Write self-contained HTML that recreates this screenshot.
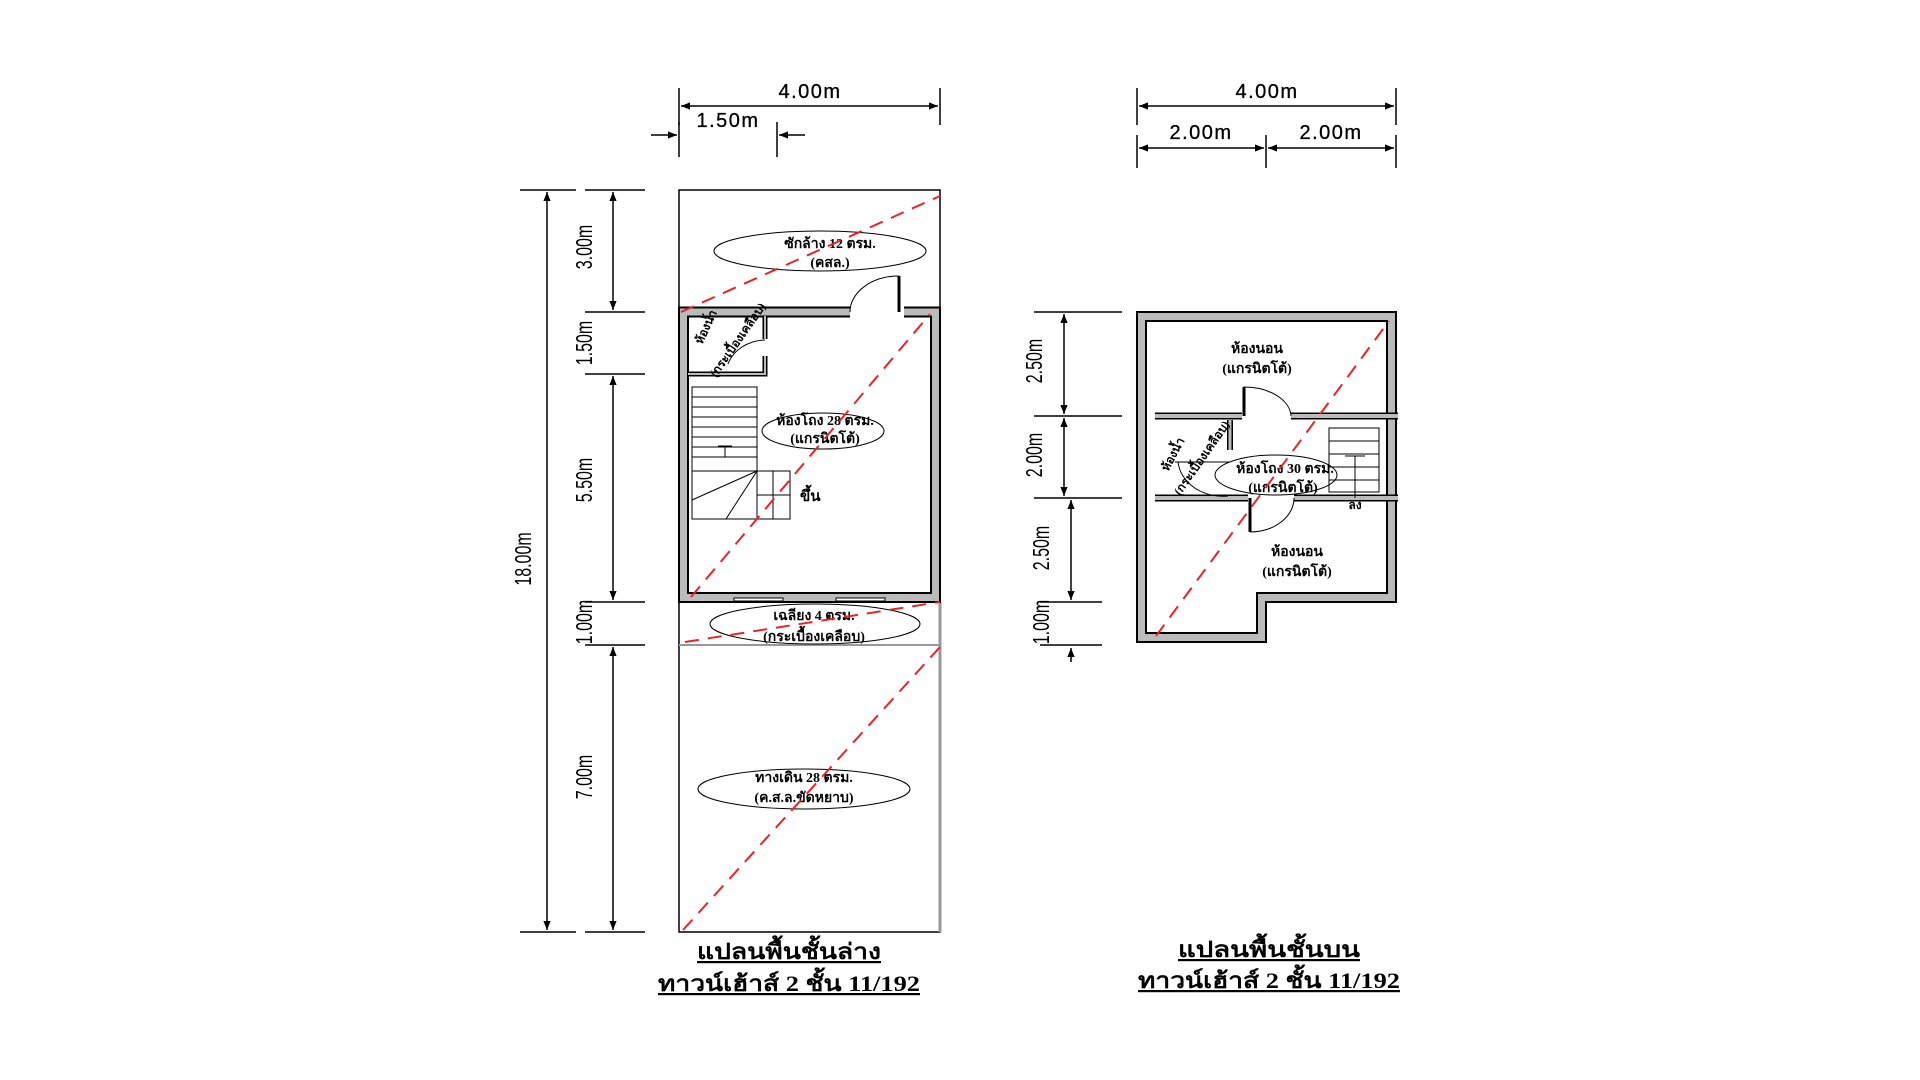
<!DOCTYPE html>
<html><head><meta charset="utf-8"><style>
html,body{margin:0;padding:0;background:#fff;}
svg{display:block}
.d{font-family:"Liberation Sans",sans-serif;font-size:20px;fill:#000}
.w{letter-spacing:1.5px;stroke:#000;stroke-width:0.3}
.t{font-family:"Liberation Serif","Noto Serif CJK SC",serif;font-weight:bold;font-size:14px;fill:#000}
.c{font-family:"Liberation Serif","Noto Serif CJK SC",serif;font-weight:bold;font-size:22px;fill:#000;text-decoration:underline}
</style></head><body>
<svg width="1920" height="1080" viewBox="0 0 1920 1080" xmlns="http://www.w3.org/2000/svg">
<defs>
<marker id="a" viewBox="0 0 10 10" refX="10" refY="5" markerWidth="9" markerHeight="6" orient="auto-start-reverse"><path d="M0,1 L10,5 L0,9z" fill="#000"/></marker>
</defs>
<g stroke="#000" stroke-width="1.5" fill="none">
<line x1="679" y1="88" x2="679" y2="125"/><line x1="940" y1="88" x2="940" y2="125"/>
<line x1="681" y1="106" x2="938" y2="106" marker-start="url(#a)" marker-end="url(#a)"/>
<line x1="679" y1="122" x2="679" y2="157"/><line x1="777" y1="122" x2="777" y2="157"/>
<line x1="651" y1="135" x2="677" y2="135" marker-end="url(#a)"/>
<line x1="805" y1="135" x2="779" y2="135" marker-end="url(#a)"/>
<line x1="520" y1="190" x2="576" y2="190"/><line x1="520" y1="932" x2="576" y2="932"/>
<line x1="547" y1="192" x2="547" y2="930" marker-start="url(#a)" marker-end="url(#a)"/>
<g>
<line x1="585" y1="190" x2="645" y2="190"/><line x1="585" y1="312" x2="645" y2="312"/>
<line x1="585" y1="374" x2="645" y2="374"/><line x1="585" y1="602" x2="645" y2="602"/>
<line x1="585" y1="645" x2="645" y2="645"/><line x1="585" y1="932" x2="645" y2="932"/>
</g>
<line x1="613" y1="192" x2="613" y2="310" marker-start="url(#a)" marker-end="url(#a)"/>
<line x1="613" y1="376" x2="613" y2="600" marker-start="url(#a)" marker-end="url(#a)"/>
<line x1="613" y1="647" x2="613" y2="930" marker-start="url(#a)" marker-end="url(#a)"/>
<line x1="1137" y1="88" x2="1137" y2="125"/><line x1="1396" y1="88" x2="1396" y2="125"/>
<line x1="1139" y1="106" x2="1394" y2="106" marker-start="url(#a)" marker-end="url(#a)"/>
<line x1="1137" y1="135" x2="1137" y2="168"/><line x1="1266" y1="135" x2="1266" y2="168"/><line x1="1396" y1="135" x2="1396" y2="168"/>
<line x1="1139" y1="148" x2="1264" y2="148" marker-start="url(#a)" marker-end="url(#a)"/>
<line x1="1268" y1="148" x2="1394" y2="148" marker-start="url(#a)" marker-end="url(#a)"/>
<line x1="1034" y1="312" x2="1122" y2="312"/><line x1="1034" y1="416" x2="1122" y2="416"/>
<line x1="1034" y1="498" x2="1122" y2="498"/><line x1="1040" y1="602" x2="1102" y2="602"/>
<line x1="1040" y1="645" x2="1102" y2="645"/>
<line x1="1064" y1="314" x2="1064" y2="414" marker-start="url(#a)" marker-end="url(#a)"/>
<line x1="1064" y1="418" x2="1064" y2="496" marker-start="url(#a)" marker-end="url(#a)"/>
<line x1="1071" y1="500" x2="1071" y2="600" marker-start="url(#a)" marker-end="url(#a)"/>
<line x1="1071" y1="662" x2="1071" y2="648" marker-end="url(#a)"/>
</g>
<text class="d w" x="810" y="98" text-anchor="middle">4.00m</text>
<text class="d w" x="728" y="127" text-anchor="middle">1.50m</text>
<text class="d w" x="1267" y="98" text-anchor="middle">4.00m</text>
<text class="d w" x="1201" y="139" text-anchor="middle">2.00m</text>
<text class="d w" x="1331" y="139" text-anchor="middle">2.00m</text>
<text class="d" transform="translate(531,559) rotate(-90) scale(0.8,1.15)" text-anchor="middle">18.00m</text>
<text class="d" transform="translate(592,247) rotate(-90) scale(0.8,1.15)" text-anchor="middle">3.00m</text>
<text class="d" transform="translate(592,343) rotate(-90) scale(0.8,1.15)" text-anchor="middle">1.50m</text>
<text class="d" transform="translate(592,480) rotate(-90) scale(0.8,1.15)" text-anchor="middle">5.50m</text>
<text class="d" transform="translate(592,622) rotate(-90) scale(0.8,1.15)" text-anchor="middle">1.00m</text>
<text class="d" transform="translate(592,777) rotate(-90) scale(0.8,1.15)" text-anchor="middle">7.00m</text>
<text class="d" transform="translate(1042,361) rotate(-90) scale(0.8,1.15)" text-anchor="middle">2.50m</text>
<text class="d" transform="translate(1042,455) rotate(-90) scale(0.8,1.15)" text-anchor="middle">2.00m</text>
<text class="d" transform="translate(1049,548) rotate(-90) scale(0.8,1.15)" text-anchor="middle">2.50m</text>
<text class="d" transform="translate(1049,622) rotate(-90) scale(0.8,1.15)" text-anchor="middle">1.00m</text>

<rect x="679" y="190" width="261" height="742" fill="none" stroke="#000" stroke-width="1.5"/>
<line x1="940" y1="602" x2="940" y2="932" stroke="#999" stroke-width="3"/>
<line x1="679" y1="645" x2="940" y2="645" stroke="#999" stroke-width="2"/>
<path d="M850,312 H683.5 V597.5 H935.5 V312 H904" fill="none" stroke="#000" stroke-width="11"/>
<path d="M850,312 H683.5 V597.5 H935.5 V312 H904" fill="none" stroke="#bbb" stroke-width="7"/>
<line x1="899" y1="312" x2="899" y2="276" stroke="#000" stroke-width="3"/>
<path d="M899,276 A49,36 0 0 0 850,312" fill="none" stroke="#000" stroke-width="1"/>
<rect x="734" y="598" width="49" height="3" fill="#fff" stroke="#000" stroke-width="1"/>
<rect x="836" y="598" width="49" height="3" fill="#fff" stroke="#000" stroke-width="1"/>
<path d="M688,374 H765 V356 M765,339 V316" fill="none" stroke="#000" stroke-width="5"/>
<path d="M688,374 H765 V356 M765,339 V316" fill="none" stroke="#bbb" stroke-width="2"/>
<path d="M765,340 A40,35 0 0 0 728,364" fill="none" stroke="#000" stroke-width="1"/>
<text class="t" transform="translate(702,345) rotate(-65)" style="font-size:12px">ห้องน้ำ</text>
<text class="t" transform="translate(716,378) rotate(-55)" style="font-size:12px">(กระเบื้องเคลือบ)</text>
<g stroke="#000" stroke-width="1" fill="none">
<rect x="692" y="387" width="65" height="132"/>
<line x1="692" y1="397" x2="757" y2="397"/><line x1="692" y1="407" x2="757" y2="407"/>
<line x1="692" y1="417" x2="757" y2="417"/><line x1="692" y1="427" x2="757" y2="427"/>
<line x1="692" y1="437" x2="757" y2="437"/><line x1="692" y1="447" x2="757" y2="447"/>
<line x1="692" y1="457" x2="757" y2="457"/><line x1="692" y1="471" x2="757" y2="471"/>
<rect x="757" y="471" width="33" height="48"/>
<line x1="773" y1="471" x2="773" y2="519"/><line x1="757" y1="495" x2="790" y2="495"/>
<line x1="692" y1="500" x2="757" y2="471"/><line x1="726" y1="519" x2="757" y2="471"/>
<line x1="725" y1="457" x2="725" y2="446"/><line x1="718" y1="446" x2="732" y2="446"/>
</g>
<text class="t" x="800" y="501" style="font-size:15px">ขึ้น</text>
<g fill="none" stroke="#000" stroke-width="1">
<ellipse cx="820" cy="251" rx="106" ry="20"/>
<ellipse cx="823" cy="431" rx="61" ry="18"/>
<ellipse cx="815" cy="624" rx="105" ry="20"/>
<ellipse cx="804" cy="789" rx="106" ry="20"/>
</g>
<g class="t" text-anchor="middle">
<text x="830" y="248">ซักล้าง 12 ตรม.</text><text x="830" y="267">(คสล.)</text>
<text x="825" y="425">ห้องโถง 28 ตรม.</text><text x="825" y="443">(แกรนิตโต้)</text>
<text x="814" y="620">เฉลียง 4 ตรม.</text><text x="814" y="641">(กระเบื้องเคลือบ)</text>
<text x="804" y="782">ทางเดิน  28 ตรม.</text><text x="804" y="802">(ค.ส.ล.ขัดหยาบ)</text>
</g>

<path d="M1141.5,316.5 H1391.5 V597.5 H1261.5 V637.5 H1141.5 Z" fill="none" stroke="#000" stroke-width="11"/>
<path d="M1141.5,316.5 H1391.5 V597.5 H1261.5 V637.5 H1141.5 Z" fill="none" stroke="#bbb" stroke-width="7"/>
<g>
<path d="M1155,416 H1242 M1291,416 H1398 M1155,498 H1248 M1294,498 H1398" fill="none" stroke="#000" stroke-width="7"/>
<path d="M1155,416 H1242 M1291,416 H1398 M1155,498 H1248 M1294,498 H1398" fill="none" stroke="#bbb" stroke-width="4"/>
<path d="M1230,420 V450" stroke="#000" stroke-width="6"/>
<path d="M1230,420 V450" stroke="#bbb" stroke-width="3"/>
</g>
<line x1="1244" y1="416" x2="1244" y2="387" stroke="#000" stroke-width="3"/>
<path d="M1244,387 A47,30 0 0 1 1291,416" fill="none" stroke="#000" stroke-width="1"/>
<line x1="1250" y1="498" x2="1250" y2="532" stroke="#000" stroke-width="3"/>
<path d="M1250,532 A44,34 0 0 0 1294,498" fill="none" stroke="#000" stroke-width="1"/>
<line x1="1175" y1="462" x2="1230" y2="462" stroke="#000" stroke-width="1"/>
<path d="M1178,462 A45,38 0 0 0 1228,496" fill="none" stroke="#000" stroke-width="1"/>
<g stroke="#000" stroke-width="1" fill="none">
<rect x="1329" y="428" width="50" height="64"/>
<line x1="1329" y1="441" x2="1379" y2="441"/><line x1="1329" y1="454" x2="1379" y2="454"/>
<line x1="1329" y1="467" x2="1379" y2="467"/><line x1="1329" y1="480" x2="1379" y2="480"/>
<line x1="1355" y1="456" x2="1355" y2="498"/><line x1="1345" y1="456" x2="1365" y2="456"/>
</g>
<text class="t" x="1355" y="509" style="font-size:12px" text-anchor="middle">ลง</text>
<ellipse cx="1276" cy="475" rx="61" ry="20" fill="none" stroke="#000" stroke-width="1"/>
<g class="t" text-anchor="middle">
<text x="1257" y="353">ห้องนอน</text><text x="1257" y="373">(แกรนิตโต้)</text>
<text x="1285" y="473">ห้องโถง 30 ตรม.</text><text x="1283" y="492">(แกรนิตโต้)</text>
<text x="1297" y="556">ห้องนอน</text><text x="1297" y="576">(แกรนิตโต้)</text>
</g>
<text class="t" transform="translate(1168,472) rotate(-62)" style="font-size:12px">ห้องน้ำ</text>
<text class="t" transform="translate(1180,496) rotate(-55)" style="font-size:12px">(กระเบื้องเคลือบ)</text>

<g stroke="#e8232a" stroke-width="2" stroke-dasharray="14,9" fill="none">
<line x1="681" y1="312" x2="940" y2="196"/>
<line x1="691" y1="597" x2="930" y2="314"/>
<line x1="685" y1="642" x2="940" y2="602"/>
<line x1="683" y1="930" x2="940" y2="647"/>
<line x1="1156" y1="636" x2="1389" y2="321"/>
</g>

<text class="c" x="697" y="959" textLength="184" lengthAdjust="spacingAndGlyphs">แปลนพื้นชั้นล่าง</text>
<text class="c" x="658" y="991" textLength="262" lengthAdjust="spacingAndGlyphs">ทาวน์เฮ้าส์ 2 ชั้น 11/192</text>
<text class="c" x="1178" y="957" textLength="182" lengthAdjust="spacingAndGlyphs">แปลนพื้นชั้นบน</text>
<text class="c" x="1138" y="988" textLength="262" lengthAdjust="spacingAndGlyphs">ทาวน์เฮ้าส์ 2 ชั้น 11/192</text>
</svg>
</body></html>
